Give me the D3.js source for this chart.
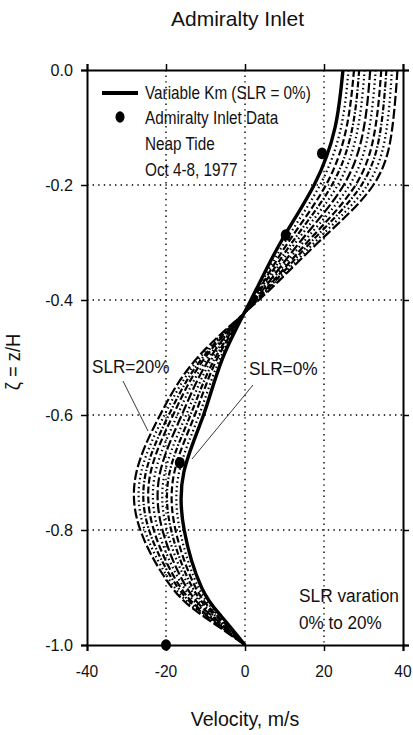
<!DOCTYPE html>
<html>
<head>
<meta charset="utf-8">
<script src="https://cdn.jsdelivr.net/npm/d3@7"></script>
<style>
  html, body { margin: 0; padding: 0; background: #fff; }
  svg { display: block; }
  text { font-family: "Liberation Sans", Arial, sans-serif; fill: #111; }
</style>
</head>
<body>
<svg id="chart" width="413" height="735"></svg>
<script>
// Depth levels (zeta = z/H) at which each velocity profile is tabulated
const zetaLevels = [0, -0.1, -0.2, -0.3, -0.4, -0.5, -0.6, -0.7, -0.8, -0.9, -0.95, -1.0];

// Velocity profiles (m/s) for SLR = 0% ... 20%
const slr0  = [24.8, 22.8, 17.5,  9.0, 1.5,  -5.6, -10.5, -15.5, -15.4, -11.0,  -6.0, 0];
const slr2  = [26.2, 24.3, 19.0, 10.0, 1.7,  -6.2, -11.6, -16.7, -16.5, -11.8,  -6.5, 0];
const slr4  = [27.6, 25.7, 20.5, 10.9, 1.9,  -6.9, -12.7, -17.9, -17.6, -12.5,  -6.9, 0];
const slr6  = [28.9, 27.2, 22.0, 11.9, 2.1,  -7.5, -13.8, -19.1, -18.7, -13.3,  -7.4, 0];
const slr8  = [30.3, 28.6, 23.5, 12.8, 2.3,  -8.2, -14.9, -20.3, -19.8, -14.0,  -7.8, 0];
const slr10 = [31.7, 30.1, 25.0, 13.8, 2.5,  -8.8, -16.0, -21.5, -20.9, -14.8,  -8.3, 0];
const slr12 = [33.1, 31.5, 26.5, 14.7, 2.7,  -9.4, -17.1, -22.7, -22.0, -15.5,  -8.7, 0];
const slr14 = [34.5, 33.0, 28.0, 15.7, 2.9, -10.1, -18.2, -23.9, -23.1, -16.3,  -9.2, 0];
const slr16 = [35.8, 34.4, 29.5, 16.6, 3.1, -10.7, -19.3, -25.1, -24.3, -17.0,  -9.6, 0];
const slr18 = [37.2, 35.9, 31.0, 17.6, 3.3, -11.4, -20.4, -26.3, -25.4, -17.8, -10.1, 0];
const slr20 = [38.6, 37.3, 32.5, 18.5, 3.5, -12.0, -21.5, -27.5, -26.5, -18.5, -10.5, 0];

// Admiralty Inlet observations, neap tide
const obsVelocity = [19.5, 10.3, -16.5, -20.0];
const obsZeta     = [-0.145, -0.287, -0.683, -1.0];

// Axis ticks
const xTicks = [-40, -20, 0, 20, 40];
const yTicks = [0, -0.2, -0.4, -0.6, -0.8, -1.0];

const profiles = [slr0, slr2, slr4, slr6, slr8, slr10, slr12, slr14, slr16, slr18, slr20];
const dashStyles = ["none", "1.5,3", "7,3", "6,2,1.5,2", "1.5,3", "10,3",
                    "1.5,3", "7,3", "6,2,1.5,2", "1.5,3", "10,3"];

const svg = d3.select("#chart");
const pLeft = 87, pRight = 403, pTop = 70, pBottom = 645;

const x = d3.scaleLinear().domain([-40, 40]).range([pLeft, pRight]);
const y = d3.scaleLinear().domain([0, -1]).range([pTop, pBottom]);

// Condensed-looking text helper
function label(g, txt, px, py, size, sx, anchor) {
  return g.append("text")
    .attr("transform", `translate(${px},${py}) scale(${sx},1)`)
    .attr("text-anchor", anchor || "start")
    .style("font-size", size + "px")
    .text(txt);
}

// Title
label(svg, "Admiralty Inlet", 237.5, 26, 21, 1.0, "middle");

// Gridlines (dotted)
const grid = svg.append("g");
grid.selectAll("line.gx").data(xTicks.filter(d => d > -40 && d < 40)).join("line")
  .attr("x1", d => x(d)).attr("x2", d => x(d))
  .attr("y1", pTop).attr("y2", pBottom)
  .attr("stroke", "#000").attr("stroke-width", 1.4).attr("stroke-dasharray", "1.4,4.2");
grid.selectAll("line.gy").data(yTicks.filter(d => d < 0 && d > -1)).join("line")
  .attr("x1", pLeft).attr("x2", pRight)
  .attr("y1", d => y(d)).attr("y2", d => y(d))
  .attr("stroke", "#000").attr("stroke-width", 1.4).attr("stroke-dasharray", "1.4,4.2");

// Axes with outward ticks on all four sides
const axB = d3.axisBottom(x).tickValues(xTicks).tickSize(6).tickFormat(() => "");
const axT = d3.axisTop(x).tickValues(xTicks).tickSize(6).tickFormat(() => "");
const axL = d3.axisLeft(y).tickValues(yTicks).tickSize(6).tickFormat(() => "");
const axR = d3.axisRight(y).tickValues(yTicks).tickSize(6).tickFormat(() => "");
[[axB, `translate(0,${pBottom})`], [axT, `translate(0,${pTop})`],
 [axL, `translate(${pLeft},0)`], [axR, `translate(${pRight},0)`]].forEach(([ax, tr]) => {
  const g = svg.append("g").attr("transform", tr).call(ax);
  g.select(".domain").attr("stroke", "#000").attr("stroke-width", 2);
  g.selectAll(".tick line").attr("stroke", "#000").attr("stroke-width", 1.5);
});

// Tick labels
const tl = svg.append("g");
xTicks.forEach(v => label(tl, String(v), x(v), 677, 17, 0.92, "middle"));
yTicks.forEach(v => label(tl, v.toFixed(1), 73, y(v) + 6, 17, 0.95, "end"));

// Axis titles
label(svg, "Velocity, m/s", 245, 726, 20, 0.98, "middle");
svg.append("text")
  .attr("transform", "translate(20,362) rotate(-90) scale(0.92,1)")
  .attr("text-anchor", "middle")
  .style("font-size", "20px")
  .text("ζ = z/H");

// Velocity profiles
const line = d3.line()
  .x(d => x(d[0]))
  .y(d => y(d[1]))
  .curve(d3.curveNatural);

svg.append("clipPath").attr("id", "plotClip")
  .append("rect").attr("x", pLeft).attr("y", pTop - 2)
  .attr("width", pRight - pLeft).attr("height", pBottom - pTop + 2);

const curves = svg.append("g").attr("clip-path", "url(#plotClip)");
profiles.slice().reverse().forEach((vals, ri) => {
  const i = profiles.length - 1 - ri;
  curves.append("path")
    .datum(vals.map((v, k) => [v, zetaLevels[k]]))
    .attr("d", line)
    .attr("fill", "none")
    .attr("stroke", "#000")
    .attr("stroke-width", i === 0 ? 3.4 : 2.2)
    .attr("stroke-dasharray", dashStyles[i]);
});

// Observations
svg.append("g").selectAll("ellipse").data(obsVelocity).join("ellipse")
  .attr("cx", d => x(d))
  .attr("cy", (d, i) => y(obsZeta[i]))
  .attr("rx", 5).attr("ry", 5.8)
  .attr("fill", "#000");

// Legend
const lg = svg.append("g");
lg.append("line").attr("x1", 102).attr("x2", 138).attr("y1", 93).attr("y2", 93)
  .attr("stroke", "#000").attr("stroke-width", 3.8);
lg.append("ellipse").attr("cx", 120).attr("cy", 117).attr("rx", 4.5).attr("ry", 5.8).attr("fill", "#000");
label(lg, "Variable Km (SLR = 0%)", 145, 99, 18, 0.85);
label(lg, "Admiralty Inlet Data", 145, 124, 18, 0.85);
label(lg, "Neap Tide", 145, 150, 18, 0.85);
label(lg, "Oct 4-8, 1977", 145, 176, 18, 0.85);

// Annotations
const an = svg.append("g");
label(an, "SLR=20%", 92, 373, 19, 0.9);
label(an, "SLR=0%", 249, 375, 19, 0.91);
an.append("line").attr("x1", 123).attr("y1", 381).attr("x2", 148).attr("y2", 431)
  .attr("stroke", "#222").attr("stroke-width", 0.9);
an.append("line").attr("x1", 253).attr("y1", 385).attr("x2", 192).attr("y2", 459)
  .attr("stroke", "#222").attr("stroke-width", 0.9);
label(an, "SLR varation", 299, 602, 19, 0.91);
label(an, "0% to 20%", 299, 629, 19, 0.9);
</script>
</body>
</html>
